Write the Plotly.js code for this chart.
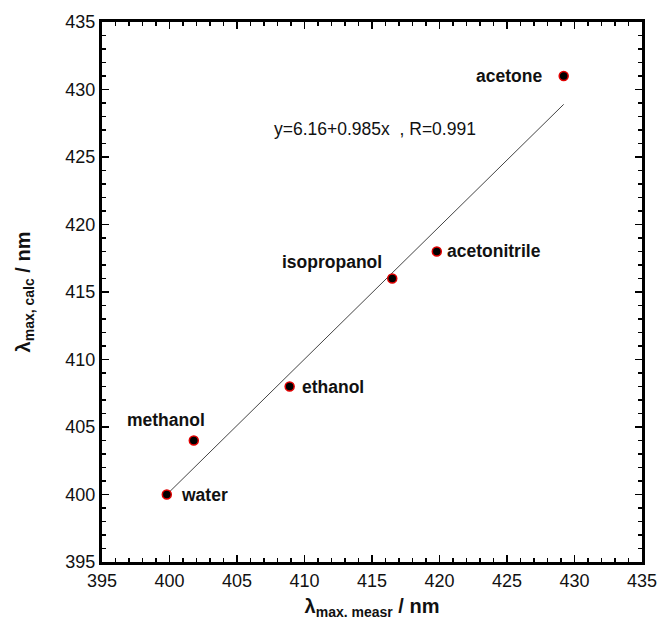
<!DOCTYPE html>
<html>
<head>
<meta charset="utf-8">
<script src="https://cdn.plot.ly/plotly-3.0.1.min.js"></script>
<style>html,body{margin:0;padding:0;background:#fff;}#chart{width:658px;height:626px;}</style>
</head>
<body>
<div id="chart"></div>
<script>
const solvents = ["water", "methanol", "ethanol", "isopropanol", "acetonitrile", "acetone"];
const lambdaMeasured = [399.8, 401.8, 408.9, 416.5, 419.8, 429.2];
const lambdaCalculated = [400, 404, 408, 416, 418, 431];
const fitX = [399.8, 429.2];
const fitY = [400.0, 428.9];
const equationText = "y=6.16+0.985x  , R=0.991";

const labelAnchor = ["left", "right", "left", "right", "left", "right"];
const labelShiftX = [12, 13, 10, -8, 8, -20];
const labelShiftY = [0, 21, 0, 17, 1, 0];

const traces = [
  {x: fitX, y: fitY, mode: "lines", line: {color: "#444", width: 1}, hoverinfo: "skip"},
  {x: lambdaMeasured, y: lambdaCalculated, mode: "markers",
   marker: {color: "#000", size: 9, line: {color: "#e00000", width: 1.5}}}
];

const annotations = solvents.map((s, i) => ({
  x: lambdaMeasured[i], y: lambdaCalculated[i], xref: "x", yref: "y",
  text: "<b>" + s + "</b>", showarrow: false, xanchor: labelAnchor[i], yanchor: "middle",
  xshift: labelShiftX[i], yshift: labelShiftY[i],
  font: {family: "Liberation Sans, Arial, sans-serif", size: 17.5, color: "#111"}
}));
annotations.push({
  x: 0.315, y: 0.802, xref: "paper", yref: "paper", xanchor: "left", yanchor: "middle",
  text: equationText, showarrow: false,
  font: {family: "Liberation Sans, Arial, sans-serif", size: 17.5, color: "#111"}
});

const axisCommon = {
  range: [395, 435], dtick: 5, tick0: 395,
  ticks: "inside", ticklen: 7, tickwidth: 1.5, tickcolor: "#000",
  showline: true, linewidth: 3, linecolor: "#000", mirror: "ticks",
  showgrid: false, zeroline: false,
  tickfont: {family: "Liberation Sans, Arial, sans-serif", size: 18, color: "#111"},
  minor: {ticks: "inside", dtick: 1, ticklen: 4, tickwidth: 1.2, tickcolor: "#000", showgrid: false}
};

const layout = {
  width: 658, height: 626,
  margin: {l: 102, r: 16, t: 22, b: 64},
  paper_bgcolor: "#fff", plot_bgcolor: "#fff",
  showlegend: false,
  xaxis: Object.assign({}, axisCommon, {
    title: {text: "<b>λ<sub>max. measr</sub> / nm</b>", standoff: 10,
      font: {family: "Liberation Sans, Arial, sans-serif", size: 20, color: "#111"}}
  }),
  yaxis: Object.assign({}, axisCommon, {
    title: {text: "<b>λ<sub>max, calc</sub> / nm</b>", standoff: 30,
      font: {family: "Liberation Sans, Arial, sans-serif", size: 20, color: "#111"}}
  }),
  annotations: annotations
};

Plotly.newPlot("chart", traces, layout, {displayModeBar: false, staticPlot: true});
</script>
</body>
</html>
